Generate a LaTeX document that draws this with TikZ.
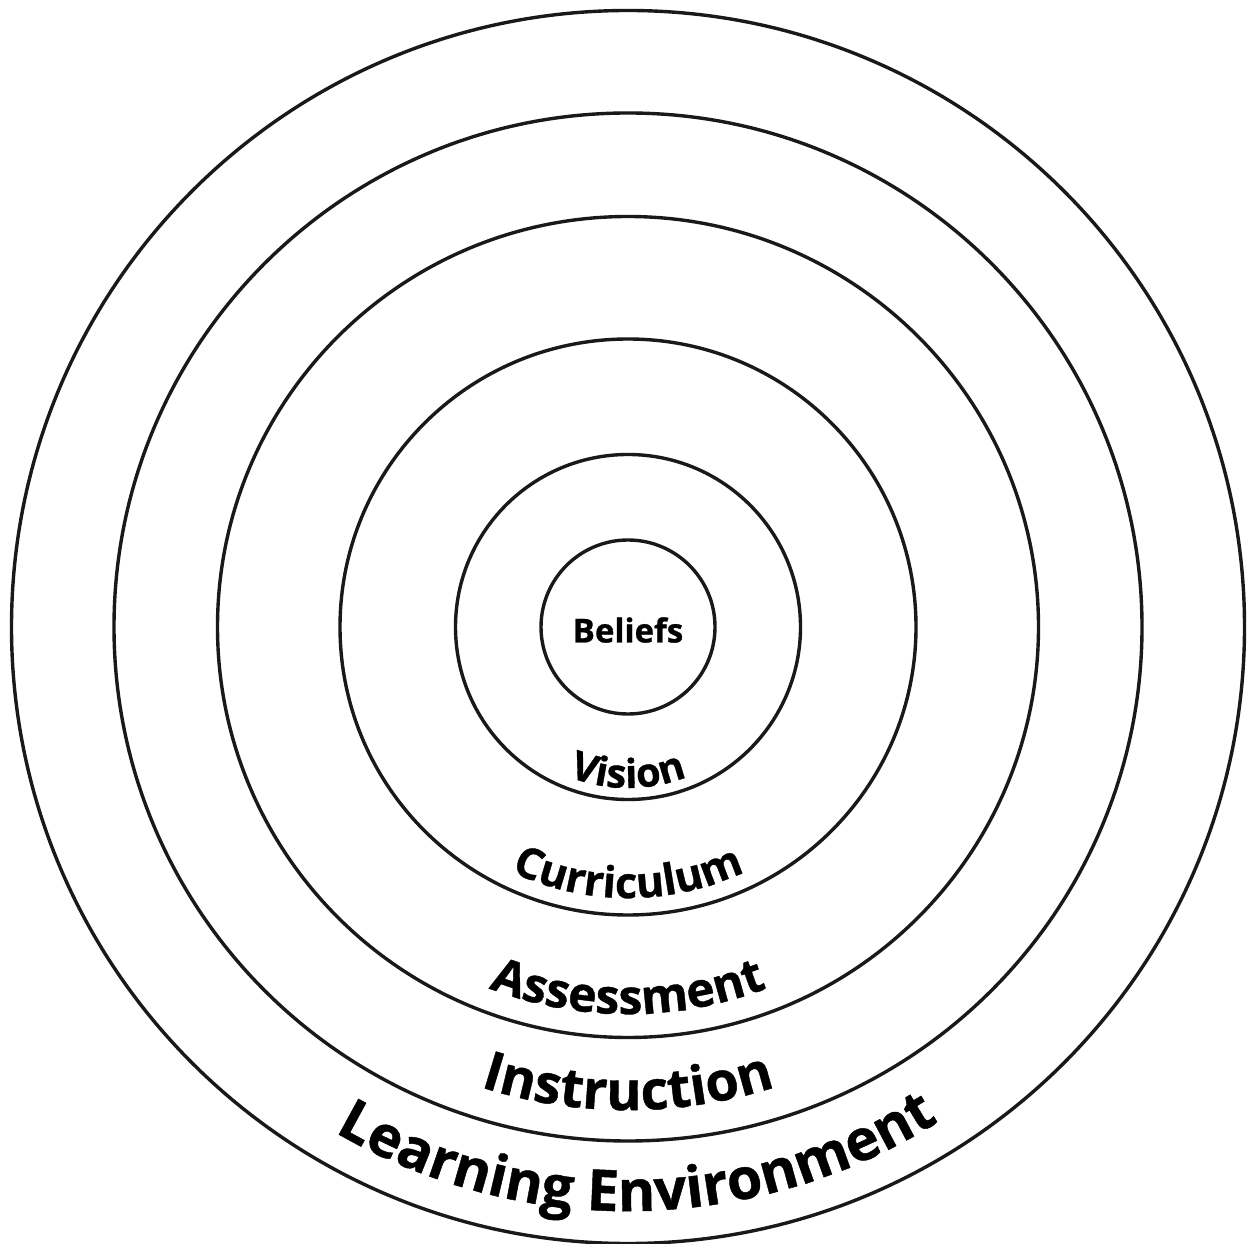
\documentclass[tikz,border=0pt]{standalone}
\usepackage{fontspec}
\setmainfont{Open Sans}[BoldFeatures={FakeBold=0.8}]
\usetikzlibrary{decorations.text,calc}
\tikzset{
  ring/.style={circle, draw=black!90, line width=3.4pt, inner sep=0pt, minimum size=#1},
  ringtext/.style 2 args={decorate, decoration={text along path, text align=center,
     text={|\bfseries\fontsize{#1}{#1}\selectfont|#2}}}
}
\begin{document}
\begin{tikzpicture}[x=1pt,y=1pt]
\useasboundingbox (0,0) rectangle (1249,1243);
\coordinate (ctr) at (628,616);
\node[ring=174pt] (c1) at (ctr) {};
\node[ring=345pt] (c2) at (ctr) {};
\node[ring=576pt] (c3) at (ctr) {};
\node[ring=821pt] (c4) at (ctr) {};
\node[ring=1028pt] (c5) at (ctr) {};
\node[ring=1233pt] (c6) at (ctr) {};
\node[font=\bfseries\fontsize{33}{36}\selectfont] (beliefs) at ($(ctr)+(0,-3)$) {Beliefs};
\path[ringtext={40}{Vision}] ($(ctr)+(190:161)$) arc[start angle=190, end angle=350, radius=161];
\path[ringtext={43}{Curriculum}] ($(ctr)+(190:271)$) arc[start angle=190, end angle=350, radius=271];
\path[ringtext={48}{Assessment}] ($(ctr)+(190:387)$) arc[start angle=190, end angle=350, radius=387];
\path[ringtext={54}{Instruction}] ($(ctr)+(190:483)$) arc[start angle=190, end angle=350, radius=483];
\path[ringtext={57}{Learning Environment}] ($(ctr)+(191:584)$) arc[start angle=191, end angle=351, radius=584];
\end{tikzpicture}
\end{document}
